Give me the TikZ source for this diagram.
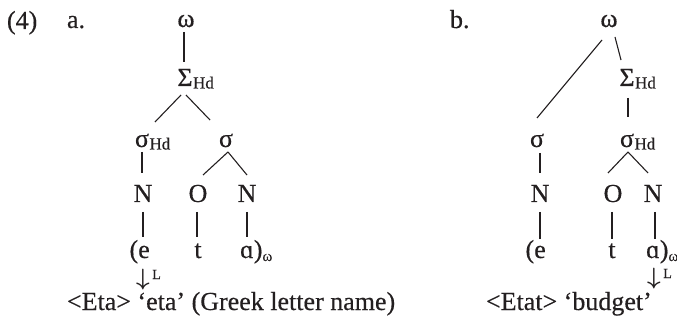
\documentclass[tikz,border=0pt]{standalone}
\usepackage{graphicx}
\usepackage{fontspec}
\setmainfont{Liberation Serif}[FakeBold=0.4]
\definecolor{ink}{RGB}{35,31,32}
\newcommand\hdsub{\rlap{\kern0.5pt\raisebox{-2.5pt}{\fontsize{17}{18}\selectfont Hd}}}
\newcommand\wsub{\raisebox{-3pt}{\fontsize{15}{16}\selectfont ω}}
\newcommand\lsup{\rlap{\kern2.5pt\raisebox{6pt}{\fontsize{14}{16}\selectfont L}}}
\newcommand\darr{\scalebox{0.95}{\boldmath$\downarrow$}}
\begin{document}
\begin{tikzpicture}[x=1pt,y=-1pt,
  every node/.style={text=ink},
  tn/.style={inner sep=0pt, outer sep=0pt, anchor=base, font=\fontsize{26}{30}\selectfont},
  lbl/.style={inner sep=0pt, outer sep=0pt, anchor=base west, font=\fontsize{26}{30}\selectfont},
  ln/.style={draw=ink, line width=1.1pt}]
\useasboundingbox (0,0) rectangle (677,323);
% labels
\node[lbl] (num) at (7,29) {(4)};
\node[lbl] (la) at (67,28) {a.};
\node[lbl] (lb) at (450,28) {b.};
% tree a
\node[tn] (aw) at (186,27) {ω};
\node[tn] (aS) at (185,86) {Σ\hdsub};
\node[tn] (asH) at (142,147) {σ\hdsub};
\node[tn] (as) at (226,147) {σ};
\node[tn] (aN1) at (143,202) {N};
\node[tn] (aO) at (198,202) {O};
\node[tn] (aN2) at (247,202) {N};
\node[tn] (ae) at (144,258) {\llap{(}e};
\node[tn] (at) at (198,258) {t};
\node[tn] (aa) at (247,258) {ɑ\rlap{)\wsub}};
\node[tn] (aL) at (143,285) {\darr\lsup};
\node[lbl] (capa) at (67,310) {<Eta> ‘eta’ (Greek letter name)};
\draw[ln] ([xshift=-2pt,yshift=-5pt]aw.base) -- ([xshift=-1pt,yshift=24pt]aS.base);
\draw[ln] ([xshift=-4pt,yshift=-9pt]aS.base) -- ([xshift=13pt,yshift=25pt]asH.base);
\draw[ln] ([xshift=1pt,yshift=-9pt]aS.base) -- ([xshift=-16pt,yshift=27pt]as.base);
\draw[ln] ([yshift=-5pt]asH.base) -- ([xshift=-1pt,yshift=29pt]aN1.base);
\draw[ln] ([xshift=2pt,yshift=-5pt]as.base) -- ([xshift=5pt,yshift=27pt]aO.base);
\draw[ln] ([xshift=2pt,yshift=-5pt]as.base) -- ([yshift=27pt]aN2.base);
\draw[ln] ([yshift=-10pt]aN1.base) -- ([xshift=-1pt,yshift=21pt]ae.base);
\draw[ln] ([xshift=-1pt,yshift=-10pt]aO.base) -- ([xshift=-1pt,yshift=21pt]at.base);
\draw[ln] ([yshift=-10pt]aN2.base) -- ([yshift=21pt]aa.base);
% tree b
\node[tn] (bw) at (609,27) {ω};
\node[tn] (bS) at (627,86) {Σ\hdsub};
\node[tn] (bs) at (537,147) {σ};
\node[tn] (bsH) at (627,147) {σ\hdsub};
\node[tn] (bN1) at (540,202) {N};
\node[tn] (bO) at (613,202) {O};
\node[tn] (bN2) at (653,202) {N};
\node[tn] (be) at (540,258) {\llap{(}e};
\node[tn] (bt) at (612,258) {t};
\node[tn] (ba) at (653,258) {ɑ\rlap{)\wsub}};
\node[tn] (bL) at (654,284) {\darr\lsup};
\node[lbl] (capb) at (486,310) {<Etat> ‘budget’};
\draw[ln] ([xshift=-7pt,yshift=-13pt]bw.base) -- ([yshift=29pt]bs.base);
\draw[ln] ([xshift=6pt,yshift=-10pt]bw.base) -- ([xshift=-6pt,yshift=26pt]bS.base);
\draw[ln] ([xshift=1pt,yshift=-12pt]bS.base) -- ([xshift=1pt,yshift=30pt]bsH.base);
\draw[ln] ([xshift=3pt,yshift=-6pt]bs.base) -- ([yshift=29pt]bN1.base);
\draw[ln] ([xshift=1pt,yshift=-5pt]bsH.base) -- ([xshift=-5pt,yshift=29pt]bO.base);
\draw[ln] ([xshift=1pt,yshift=-5pt]bsH.base) -- ([xshift=-5pt,yshift=29pt]bN2.base);
\draw[ln] ([yshift=-10pt]bN1.base) -- ([yshift=19pt]be.base);
\draw[ln] ([xshift=-1pt,yshift=-10pt]bO.base) -- ([yshift=19pt]bt.base);
\draw[ln] ([xshift=2pt,yshift=-10pt]bN2.base) -- ([xshift=2pt,yshift=19pt]ba.base);
\end{tikzpicture}
\end{document}
